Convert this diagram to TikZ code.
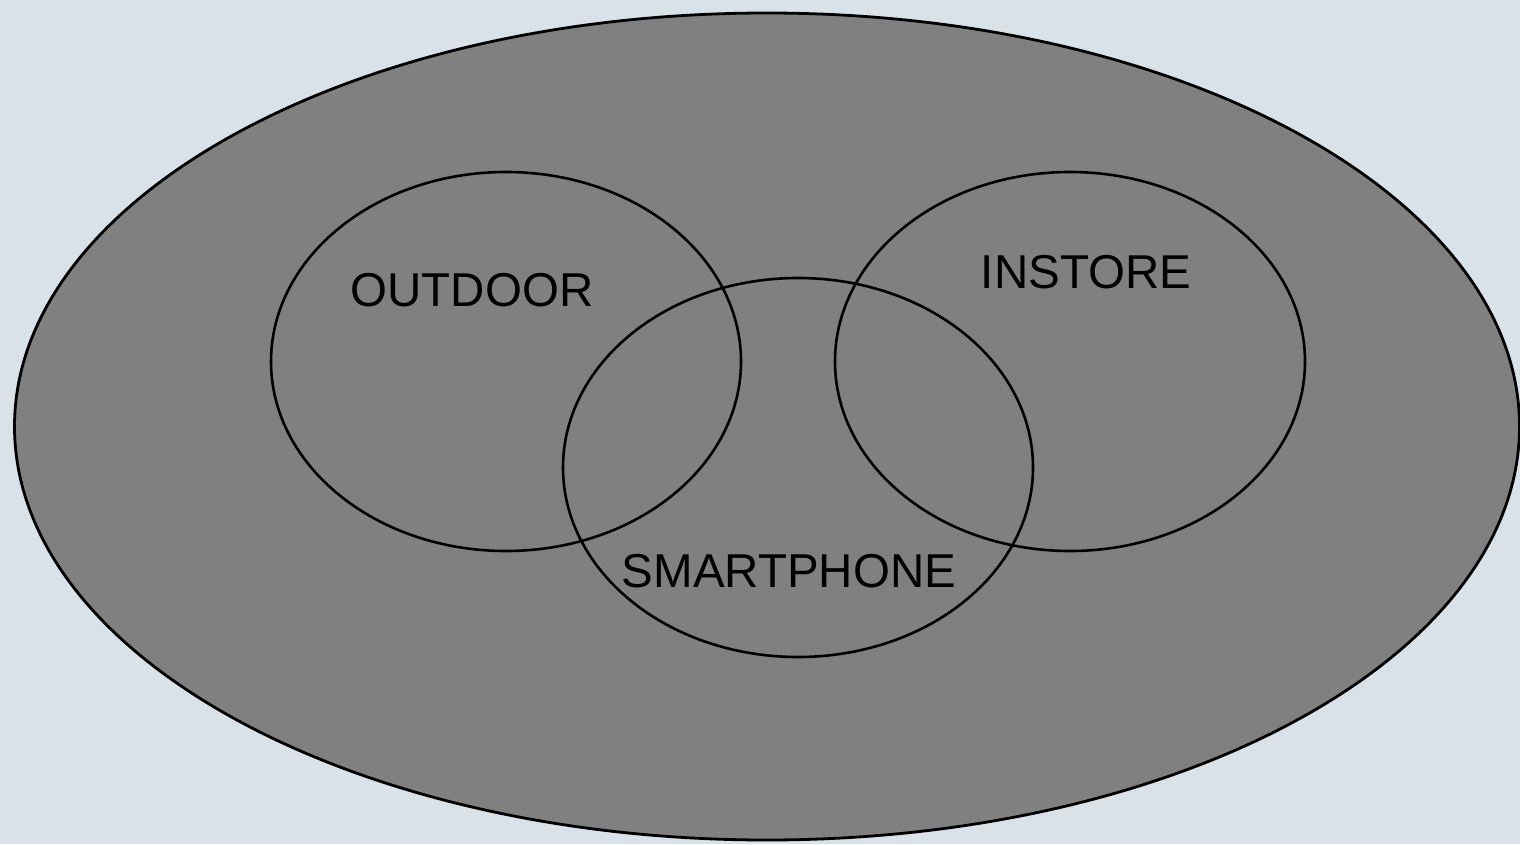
\documentclass[tikz,border=0pt]{standalone}
\usepackage{fontspec}
\setmainfont{Liberation Sans}
\usetikzlibrary{shapes.geometric}
\definecolor{pagebg}{RGB}{217,225,233}
\definecolor{setgray}{RGB}{128,128,128}

\begin{document}
\begin{tikzpicture}[
x=1pt, y=-1pt,
universe/.style={draw, ellipse, fill=setgray, line width=2.8pt, inner sep=0pt, minimum width=1505pt, minimum height=827pt},
venn/.style={draw, ellipse, line width=2.6pt, inner sep=0pt, minimum width=470pt, minimum height=379pt},
lbl/.style={inner sep=0pt, font=\fontsize{47.5}{52}\selectfont}
]
\fill[pagebg] (0,0) rectangle (1520,844);
\useasboundingbox (0,0) rectangle (1520,844);
\node[universe] (all) at (767,426.5) {};
\node[venn] (outdoor) at (506,361.5) {};
\node[venn] (smart) at (798,467.5) {};
\node[venn] (instore) at (1070,361.5) {};
\node[lbl] (outlbl) at (472,290) {OUTDOOR};
\node[lbl] (inlbl) at (1086,272) {INSTORE};
\node[lbl] (smlbl) at (789,571) {SMARTPHONE};
\end{tikzpicture}
\end{document}
